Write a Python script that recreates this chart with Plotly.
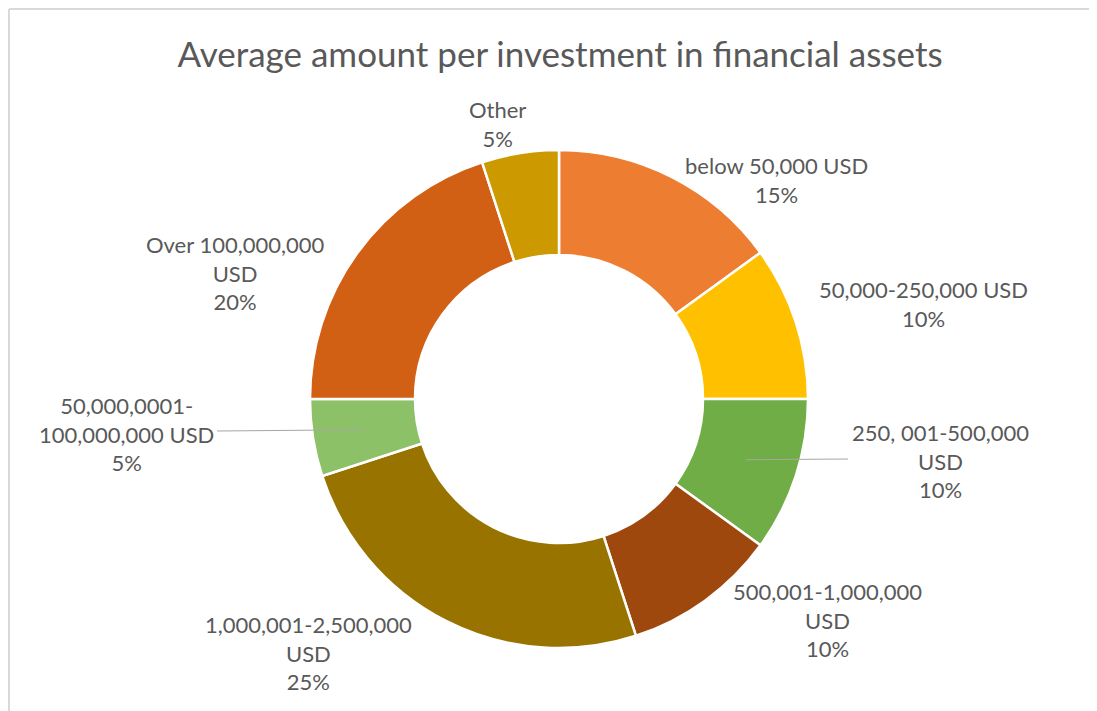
import math
import plotly.graph_objects as go

labels = ["below 50,000 USD", "50,000-250,000 USD", "250, 001-500,000 USD",
          "500,001-1,000,000 USD", "1,000,001-2,500,000 USD",
          "50,000,0001-100,000,000 USD", "Over 100,000,000 USD", "Other"]
display = ["below 50,000 USD", "50,000-250,000 USD", "250, 001-500,000<br>USD",
           "500,001-1,000,000<br>USD", "1,000,001-2,500,000<br>USD",
           "50,000,0001-<br>100,000,000 USD", "Over 100,000,000<br>USD", "Other"]
values = [15, 10, 10, 10, 25, 5, 20, 5]
colors = ["#ED7D31", "#FFC000", "#70AD47", "#9E480E", "#997300",
          "#8CC168", "#D26014", "#CC9A00"]

# page body has an 8px margin; work in screenshot pixels and shift
OFF = 8
W, H = 1097 - OFF, 711 - OFF


def px2x(p):
    return (p - OFF) / W


def py2y(p):
    return 1 - (p - OFF) / H


cx, cy, R, r_in = 559, 399, 249, 144
# label centre positions (screenshot pixels)
label_pos = [(776, 180), (923, 304), (940, 461), (827, 620), (308, 653),
             (126, 434), (235, 273), (497, 124)]
leader = [False, False, True, False, False, True, False, False]
TXT = "#595959"
FONT = "Lato"

fig = go.Figure(go.Pie(
    labels=labels, values=values, sort=False, direction="clockwise", rotation=0,
    hole=r_in / R, textinfo="none", hoverinfo="label+percent",
    marker=dict(colors=colors, line=dict(color="white", width=2.5)),
    domain=dict(x=[px2x(cx - R), px2x(cx + R)], y=[py2y(cy + R), py2y(cy - R)]),
    showlegend=False,
))

total = sum(values)
annotations = []
shapes = []
cum = 0
for lab, v, (lx, ly), ld in zip(display, values, label_pos, leader):
    pct = round(100 * v / total)
    annotations.append(dict(
        x=px2x(lx), y=py2y(ly), xref="paper", yref="paper", showarrow=False,
        text=f"{lab}<br>{pct}%", align="center", xanchor="center", yanchor="middle",
        font=dict(family=FONT, size=22, color=TXT)))
    if ld:
        ang = math.radians(360 * (cum + v / 2) / total)
        rm = (R + r_in) / 2
        px = cx + rm * math.sin(ang)
        py = cy - rm * math.cos(ang)
        ex = lx - 92 if px > cx else lx + 91
        ey = ly - 2 if px > cx else ly - 3
        shapes.append(dict(type="line", xref="paper", yref="paper",
                           x0=px2x(px), y0=py2y(py), x1=px2x(ex), y1=py2y(ey),
                           line=dict(color="#A6A6A6", width=1)))
    cum += v

# chart frame (top and left edges visible)
shapes.append(dict(type="line", xref="paper", yref="paper", x0=px2x(9), y0=py2y(9),
                   x1=1.0, y1=py2y(9), line=dict(color="#D9D9D9", width=2)))
shapes.append(dict(type="line", xref="paper", yref="paper", x0=px2x(9), y0=py2y(9),
                   x1=px2x(9), y1=0.0, line=dict(color="#D9D9D9", width=2)))

fig.update_layout(
    width=W, height=H, margin=dict(l=0, r=0, t=0, b=0),
    paper_bgcolor="white", plot_bgcolor="white",
    title=dict(text="Average amount per investment in financial assets",
               x=px2x(560), xanchor="center", y=py2y(55), yanchor="middle",
               font=dict(family=FONT, size=35, color=TXT)),
    annotations=annotations, shapes=shapes,
)
fig.write_html("out.html", config={"displayModeBar": False})
